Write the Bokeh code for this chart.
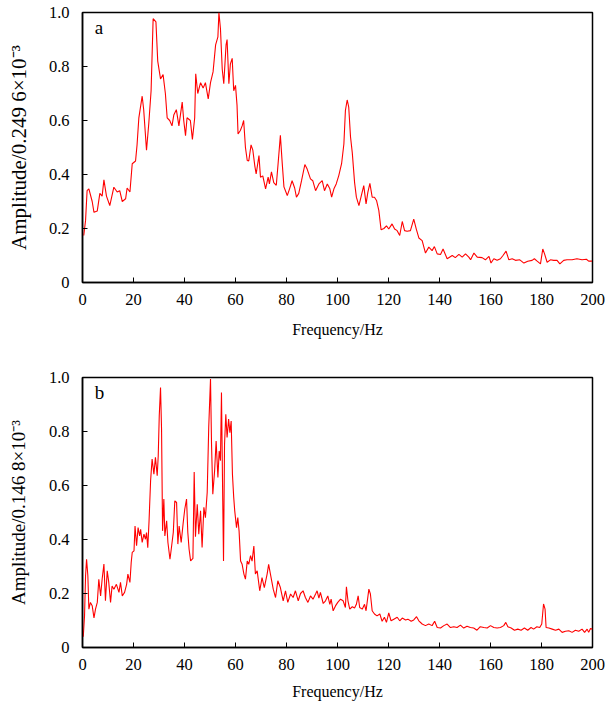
from bokeh.plotting import figure
from bokeh.layouts import column
from bokeh.models import FixedTicker, Label
from bokeh.embed import file_html
from bokeh.resources import INLINE

x_ticks = [0, 20, 40, 60, 80, 100, 120, 140, 160, 180, 200]
y_ticks = [0, 0.2, 0.4, 0.6, 0.8, 1.0]
y_tick_labels = {0: "0", 0.2: "0.2", 0.4: "0.4", 0.6: "0.6", 0.8: "0.8", 1.0: "1.0"}

freq_a = [0.5, 1.2, 1.8, 2.5, 3.8, 4.5, 5.8, 6.8, 7.7, 8.4, 9.4, 10.7, 12.3, 13.6, 14.6, 15.6, 16.9, 17.5,
          18.6, 19.5, 20.8, 21.4, 22.1, 23.4, 24.0, 25.1, 26.0, 26.9, 27.7, 28.8, 29.5, 30.6, 31.6, 32.5,
          33.2, 34.2, 35.1, 35.8, 36.8, 37.8, 39.1, 39.7, 40.4, 41.0, 42.3, 43.1, 44.0, 44.4, 45.2, 46.3,
          47.3, 48.2, 49.3, 50.2, 51.2, 52.2, 53.1, 53.5, 54.1, 54.8, 55.4, 56.3, 56.7, 57.4, 58.0, 58.7,
          59.3, 60.0, 60.6, 61.0, 61.9, 62.6, 63.2, 63.9, 64.6, 65.2, 66.1, 66.8, 67.6, 68.1, 69.2, 69.8,
          70.7, 71.8, 72.8, 73.3, 74.1, 75.0, 76.0, 76.7, 77.6, 78.3, 79.0, 80.3, 81.2, 82.2, 83.2, 83.9,
          84.8, 85.9, 87.2, 88.1, 89.4, 90.3, 91.4, 92.7, 94.0, 94.9, 96.0, 97.0, 97.7, 98.6, 99.5, 100.5,
          101.6, 102.5, 103.1, 103.8, 104.4, 105.1, 105.8, 106.7, 107.4, 108.4, 109.3, 110.3, 111.2, 111.9,
          112.7, 113.6, 114.5, 115.3, 116.2, 117.1, 118.2, 119.2, 120.1, 121.4, 122.4, 123.4, 124.4, 125.4,
          126.3, 127.3, 128.6, 129.9, 130.9, 131.9, 133.2, 134.5, 135.8, 137.1, 138.0, 139.1, 140.4, 141.4,
          143.0, 145.0, 146.2, 147.6, 148.9, 150.2, 151.5, 152.2, 153.5, 154.8, 156.7, 158.0, 159.4, 160.2,
          161.3, 162.6, 163.9, 164.9, 166.1, 167.2, 168.5, 169.8, 171.5, 173.1, 174.6, 176.3, 177.2, 178.3,
          179.6, 180.5, 181.2, 182.2, 183.5, 184.8, 186.1, 187.2, 188.7, 190.0, 192.0, 193.9, 195.9, 197.6,
          198.5, 199.8]
amp_a = [0.174, 0.23, 0.34, 0.347, 0.30, 0.26, 0.265, 0.33, 0.32, 0.38, 0.32, 0.285, 0.353, 0.335, 0.34, 0.30,
         0.31, 0.35, 0.335, 0.44, 0.45, 0.51, 0.61, 0.69, 0.64, 0.49, 0.59, 0.71, 0.977, 0.965, 0.82, 0.754,
         0.77, 0.70, 0.61, 0.60, 0.58, 0.62, 0.64, 0.58, 0.668, 0.60, 0.544, 0.61, 0.60, 0.53, 0.61, 0.773,
         0.70, 0.74, 0.72, 0.74, 0.68, 0.74, 0.78, 0.88, 0.91, 1.0, 0.94, 0.79, 0.736, 0.88, 0.90, 0.736,
         0.81, 0.83, 0.71, 0.73, 0.656, 0.55, 0.563, 0.58, 0.60, 0.50, 0.452, 0.45, 0.51, 0.49, 0.43, 0.402,
         0.47, 0.39, 0.395, 0.347, 0.39, 0.365, 0.41, 0.37, 0.36, 0.44, 0.545, 0.445, 0.354, 0.322, 0.347,
         0.377, 0.35, 0.316, 0.33, 0.377, 0.437, 0.42, 0.384, 0.377, 0.34, 0.365, 0.377, 0.34, 0.365, 0.347,
         0.316, 0.347, 0.365, 0.396, 0.44, 0.513, 0.637, 0.676, 0.65, 0.54, 0.48, 0.37, 0.316, 0.285, 0.32,
         0.359, 0.291, 0.334, 0.367, 0.316, 0.316, 0.304, 0.267, 0.195, 0.2, 0.21, 0.198, 0.217, 0.198, 0.192,
         0.174, 0.226, 0.192, 0.19, 0.192, 0.235, 0.198, 0.165, 0.155, 0.109, 0.131, 0.118, 0.133, 0.106,
         0.104, 0.124, 0.088, 0.1, 0.092, 0.104, 0.094, 0.106, 0.094, 0.084, 0.109, 0.094, 0.092, 0.084,
         0.097, 0.072, 0.088, 0.082, 0.088, 0.1, 0.116, 0.084, 0.088, 0.082, 0.084, 0.072, 0.079, 0.082,
         0.088, 0.079, 0.069, 0.124, 0.106, 0.075, 0.084, 0.082, 0.082, 0.069, 0.082, 0.084, 0.084, 0.088,
         0.084, 0.086, 0.079, 0.079]

freq_b = [0.3, 0.8, 1.2, 1.6, 2.1, 2.5, 3.1, 3.8, 4.5, 5.1, 5.8, 6.4, 7.1, 7.7, 8.4, 9.0, 9.7, 10.3, 11.0,
          11.6, 12.3, 13.3, 14.3, 14.9, 15.6, 16.5, 17.3, 17.8, 18.6, 19.1, 19.5, 20.2, 20.6, 21.2, 21.8,
          22.4, 22.8, 23.4, 24.1, 24.7, 25.1, 25.6, 26.1, 26.7, 27.3, 28.0, 28.6, 29.3, 29.7, 30.1, 30.6,
          31.0, 31.4, 31.9, 32.3, 33.0, 33.5, 34.3, 34.8, 35.6, 36.2, 36.9, 37.4, 37.9, 38.7, 39.5, 40.1,
          40.8, 41.3, 41.8, 42.4, 43.3, 43.8, 44.3, 45.0, 45.6, 46.3, 46.9, 47.6, 48.2, 48.9, 49.5, 50.2,
          50.6, 51.1, 51.8, 52.4, 53.1, 53.6, 54.1, 54.5, 55.0, 55.3, 55.7, 56.2, 56.7, 57.3, 57.8, 58.3,
          58.8, 59.3, 59.7, 60.4, 60.9, 61.4, 62.0, 62.6, 63.3, 63.9, 64.6, 65.2, 65.9, 66.5, 67.2, 67.8,
          68.5, 69.5, 70.4, 71.3, 72.4, 73.0, 73.7, 74.8, 75.7, 76.6, 77.6, 78.7, 79.6, 80.5, 81.6, 82.6,
          83.5, 84.6, 85.5, 86.5, 87.4, 88.4, 89.4, 90.4, 91.4, 92.0, 92.7, 93.3, 94.4, 95.3, 96.2, 97.0,
          97.5, 98.3, 99.2, 100.1, 101.2, 102.2, 103.1, 103.5, 104.1, 104.8, 105.8, 106.7, 107.4, 108.1,
          108.7, 109.7, 110.6, 111.2, 112.3, 112.9, 113.6, 114.5, 115.5, 116.6, 117.5, 118.4, 119.2, 120.1,
          121.0, 122.1, 123.4, 124.4, 125.4, 126.7, 127.6, 128.9, 129.9, 131.0, 131.9, 133.2, 134.5, 135.8,
          137.1, 138.1, 139.1, 140.4, 141.7, 143.0, 144.3, 145.6, 146.9, 148.2, 149.5, 150.8, 152.1, 153.4,
          154.7, 156.0, 157.4, 158.7, 160.0, 161.3, 162.6, 163.9, 165.2, 166.0, 166.8, 168.1, 169.4, 170.7,
          172.0, 173.3, 174.6, 175.9, 176.9, 178.2, 179.3, 180.1, 180.8, 181.4, 181.8, 182.9, 184.2, 185.5,
          186.8, 188.1, 189.4, 190.7, 192.0, 193.3, 194.6, 195.9, 196.9, 197.9, 198.5, 199.2, 200.0]
amp_b = [0.04, 0.118, 0.266, 0.327, 0.266, 0.142, 0.167, 0.155, 0.11, 0.142, 0.167, 0.253, 0.191, 0.253, 0.309,
         0.173, 0.284, 0.241, 0.167, 0.228, 0.216, 0.234, 0.204, 0.241, 0.191, 0.204, 0.234, 0.272, 0.241,
         0.315, 0.352, 0.358, 0.45, 0.377, 0.444, 0.413, 0.438, 0.389, 0.42, 0.401, 0.426, 0.37, 0.469, 0.617,
         0.698, 0.642, 0.704, 0.636, 0.71, 0.858, 0.963, 0.809, 0.432, 0.55, 0.413, 0.469, 0.389, 0.327,
         0.364, 0.426, 0.543, 0.537, 0.383, 0.45, 0.389, 0.463, 0.512, 0.55, 0.426, 0.364, 0.321, 0.33, 0.65,
         0.41, 0.53, 0.42, 0.506, 0.37, 0.519, 0.481, 0.574, 0.815, 0.994, 0.753, 0.568, 0.654, 0.765, 0.63,
         0.728, 0.692, 0.944, 0.543, 0.32, 0.753, 0.864, 0.778, 0.846, 0.796, 0.839, 0.642, 0.556, 0.506,
         0.444, 0.481, 0.432, 0.32, 0.308, 0.272, 0.253, 0.32, 0.308, 0.34, 0.32, 0.376, 0.272, 0.284, 0.21,
         0.259, 0.222, 0.272, 0.308, 0.272, 0.216, 0.185, 0.247, 0.222, 0.173, 0.21, 0.167, 0.198, 0.185,
         0.21, 0.173, 0.2, 0.21, 0.185, 0.167, 0.191, 0.179, 0.198, 0.21, 0.183, 0.204, 0.163, 0.173, 0.191,
         0.16, 0.179, 0.136, 0.154, 0.167, 0.179, 0.173, 0.148, 0.225, 0.173, 0.142, 0.151, 0.146, 0.16,
         0.191, 0.148, 0.142, 0.16, 0.136, 0.216, 0.198, 0.136, 0.124, 0.117, 0.124, 0.097, 0.112, 0.093,
         0.128, 0.099, 0.105, 0.112, 0.099, 0.109, 0.102, 0.105, 0.097, 0.102, 0.114, 0.099, 0.087, 0.081,
         0.087, 0.081, 0.097, 0.074, 0.072, 0.081, 0.087, 0.074, 0.077, 0.074, 0.083, 0.072, 0.079, 0.074,
         0.072, 0.064, 0.077, 0.074, 0.072, 0.081, 0.074, 0.072, 0.074, 0.081, 0.093, 0.077, 0.072, 0.064,
         0.068, 0.064, 0.072, 0.064, 0.074, 0.068, 0.077, 0.074, 0.087, 0.161, 0.142, 0.074, 0.072, 0.068,
         0.064, 0.068, 0.056, 0.06, 0.062, 0.056, 0.064, 0.06, 0.068, 0.056, 0.068, 0.056, 0.07, 0.068]

FONT = "Liberation Serif"


def make_panel(freq, amp, letter, ylabel, ylabel_size, ylabel_standoff, height, top, bottom, xlabel_standoff):
    p = figure(width=605, height=height, x_range=(0, 200), y_range=(0, 1.0),
               output_backend="svg", toolbar_location=None,
               min_border_left=82, min_border_right=13,
               min_border_top=top, min_border_bottom=bottom)
    p.line(freq, amp, line_color="#ff0000", line_width=1.1)
    p.grid.visible = False
    p.outline_line_color = "black"
    p.outline_line_width = 1.5
    p.outline_line_alpha = 1.0

    p.xaxis.ticker = FixedTicker(ticks=x_ticks)
    p.yaxis.ticker = FixedTicker(ticks=y_ticks)
    p.yaxis.major_label_overrides = y_tick_labels
    for ax in (p.xaxis[0], p.yaxis[0]):
        ax.axis_line_color = "black"
        ax.axis_line_width = 1.5
        ax.major_tick_in = 5
        ax.major_tick_out = 0
        ax.major_tick_line_color = "black"
        ax.major_tick_line_width = 1
        ax.minor_tick_line_color = None
        ax.major_label_text_font = FONT
        ax.major_label_text_font_size = "16.5px"
        ax.major_label_text_color = "black"
        ax.axis_label_text_font = FONT
        ax.axis_label_text_font_style = "normal"
        ax.axis_label_text_color = "black"
    p.xaxis.axis_label = "Frequency/Hz"
    p.xaxis.axis_label_text_font_size = "16px"
    p.xaxis.major_label_standoff = 11
    p.xaxis.axis_label_standoff = xlabel_standoff
    p.yaxis.axis_label = ylabel
    p.yaxis.axis_label_text_font_size = ylabel_size
    p.yaxis.major_label_standoff = 13
    p.yaxis.axis_label_standoff = ylabel_standoff

    p.add_layout(Label(x=4.8, y=0.945, text=letter, text_font=FONT, text_font_size="19px",
                       text_baseline="middle", text_color="black"))
    return p


pa = make_panel(freq_a, amp_a, "a", "Amplitude/0.249 6\u00d710\u207b\u00b3", "21px", 15, 365, 12, 83, 13)
pb = make_panel(freq_b, amp_b, "b", "Amplitude/0.146 8\u00d710\u207b\u00b3", "19px", 17, 344, 12, 62, 10)

layout = column(pa, pb, spacing=0)
open("out.html", "w").write(file_html(layout, INLINE))
